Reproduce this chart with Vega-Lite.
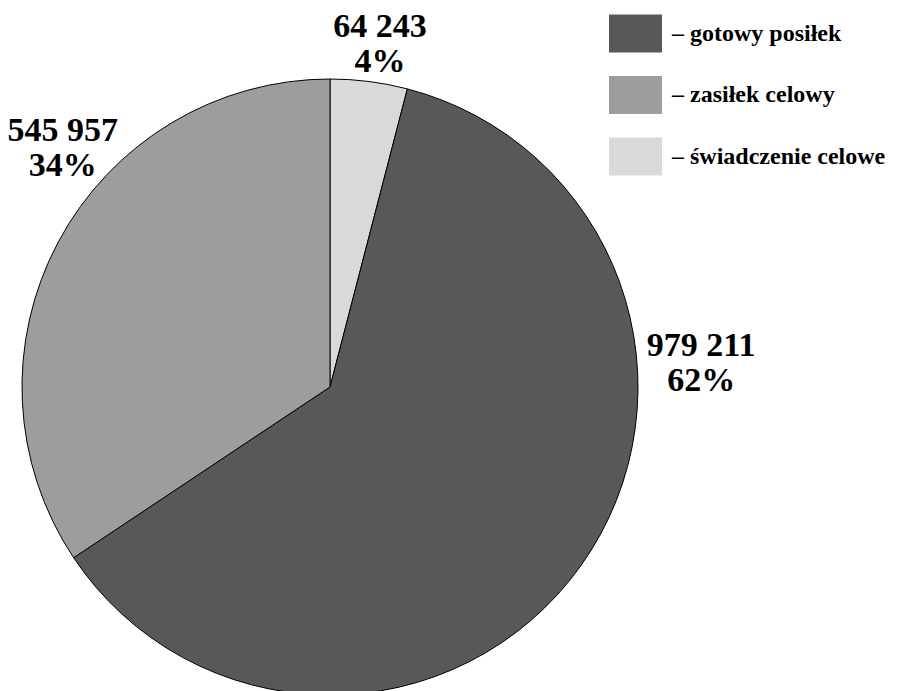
{
  "$schema": "https://vega.github.io/schema/vega-lite/v6.json",
  "autosize": "none",
  "padding": {"left": 0, "top": 0, "right": 254, "bottom": 0},
  "width": 660,
  "height": 774,
  "background": "white",
  "data": {
    "values": [
      {"category": "świadczenie celowe", "value": 64243, "label": "64 243\n4%"},
      {"category": "gotowy posiłek", "value": 979211, "label": "979 211\n62%"},
      {"category": "zasiłek celowy", "value": 545957, "label": "545 957\n34%"}
    ]
  },
  "transform": [
    {"window": [{"op": "row_number", "as": "ord"}]}
  ],
  "config": {
    "view": {"stroke": null},
    "font": "Liberation Serif"
  },
  "layer": [
    {
      "mark": {"type": "arc", "outerRadius": 308, "stroke": "black", "strokeWidth": 1},
      "encoding": {
        "theta": {"field": "value", "type": "quantitative", "stack": true},
        "order": {"field": "ord", "type": "quantitative"},
        "color": {
          "field": "category",
          "type": "nominal",
          "sort": ["gotowy posiłek", "zasiłek celowy", "świadczenie celowe"],
          "scale": {
            "domain": ["gotowy posiłek", "zasiłek celowy", "świadczenie celowe"],
            "range": ["#58585a", "#9d9d9f", "#d9d9db"]
          },
          "legend": {
            "title": null,
            "orient": "none",
            "legendX": 609,
            "legendY": 7,
            "symbolType": "M-1,-0.717H1V0.717H-1Z",
            "symbolSize": 2809,
            "symbolStrokeWidth": 0,
            "symbolOpacity": 1,
            "rowPadding": 15.5,
            "labelOffset": 10,
            "labelFont": "Liberation Serif",
            "labelFontSize": 24,
            "labelFontWeight": "bold",
            "labelColor": "black",
            "labelExpr": "'– ' + datum.label",
            "labelLimit": 400
          }
        }
      }
    },
    {
      "transform": [{"filter": "datum.category === 'świadczenie celowe'"}],
      "mark": {"type": "text", "theta": 0.1441, "radius": 348, "dy": -16, "font": "Liberation Serif", "fontSize": 34, "fontWeight": "bold", "lineBreak": "\n", "lineHeight": 35, "align": "center", "baseline": "middle", "color": "black"},
      "encoding": {"text": {"field": "label"}}
    },
    {
      "transform": [{"filter": "datum.category === 'zasiłek celowy'"}],
      "mark": {"type": "text", "theta": 5.4436, "radius": 359, "dy": -16, "font": "Liberation Serif", "fontSize": 34, "fontWeight": "bold", "lineBreak": "\n", "lineHeight": 35, "align": "center", "baseline": "middle", "color": "black"},
      "encoding": {"text": {"field": "label"}}
    },
    {
      "transform": [{"filter": "datum.category === 'gotowy posiłek'"}],
      "mark": {"type": "text", "theta": 1.5035, "radius": 372, "dy": -16, "font": "Liberation Serif", "fontSize": 34, "fontWeight": "bold", "lineBreak": "\n", "lineHeight": 35, "align": "center", "baseline": "middle", "color": "black"},
      "encoding": {"text": {"field": "label"}}
    }
  ]
}
